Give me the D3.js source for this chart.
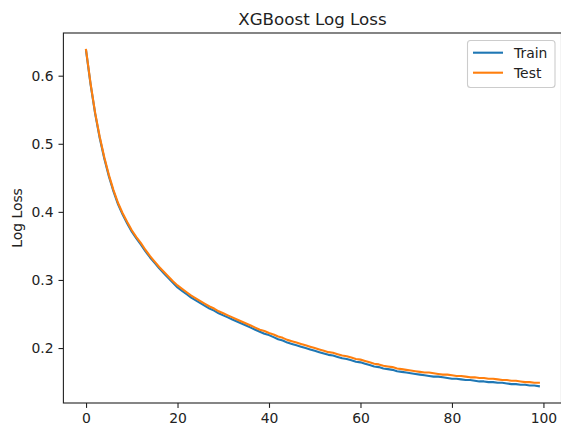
<!DOCTYPE html>
<html>
<head>
<meta charset="utf-8">
<script src="https://cdn.jsdelivr.net/npm/d3@7"></script>
<style>
  html, body { margin: 0; padding: 0; background: #fff; }
  svg { display: block; font-family: "DejaVu Sans", sans-serif; }
</style>
</head>
<body>
<svg id="chart" width="561" height="426"></svg>
<script>
const title = "XGBoost Log Loss";
const yLabel = "Log Loss";
const seriesNames = ["Train", "Test"];
const seriesColors = ["#1f77b4", "#ff7f0e"];
const xTicks = [0, 20, 40, 60, 80, 100];
const yTicks = [0.2, 0.3, 0.4, 0.5, 0.6];

const trainLoss = [
  0.637, 0.587, 0.544, 0.508, 0.478, 0.452, 0.430, 0.411, 0.396, 0.383,
  0.371, 0.361, 0.352, 0.342, 0.333, 0.325, 0.317, 0.310, 0.303, 0.296,
  0.289, 0.284, 0.279, 0.274, 0.270, 0.266, 0.262, 0.258, 0.255, 0.251,
  0.248, 0.245, 0.242, 0.239, 0.236, 0.233, 0.230, 0.227, 0.224, 0.221,
  0.219, 0.216, 0.213, 0.211, 0.208, 0.206, 0.204, 0.202, 0.200, 0.198,
  0.196, 0.194, 0.192, 0.190, 0.189, 0.187, 0.185, 0.184, 0.182, 0.180,
  0.179, 0.177, 0.175, 0.173, 0.172, 0.170, 0.169, 0.168, 0.166, 0.165,
  0.164, 0.163, 0.162, 0.161, 0.160, 0.159, 0.158, 0.158, 0.157, 0.156,
  0.155, 0.155, 0.154, 0.153, 0.153, 0.152, 0.151, 0.151, 0.150, 0.150,
  0.149, 0.149, 0.148, 0.147, 0.147, 0.146, 0.146, 0.145, 0.145, 0.144
];
const testLoss = [
  0.638, 0.588, 0.545, 0.510, 0.480, 0.454, 0.432, 0.413, 0.398, 0.385,
  0.373, 0.363, 0.354, 0.344, 0.335, 0.327, 0.319, 0.312, 0.305, 0.298,
  0.292, 0.287, 0.282, 0.277, 0.273, 0.269, 0.265, 0.261, 0.258, 0.254,
  0.251, 0.248, 0.245, 0.242, 0.239, 0.236, 0.233, 0.230, 0.227, 0.225,
  0.222, 0.220, 0.217, 0.215, 0.212, 0.210, 0.208, 0.206, 0.204, 0.202,
  0.200, 0.198, 0.196, 0.194, 0.193, 0.191, 0.189, 0.188, 0.186, 0.184,
  0.183, 0.181, 0.179, 0.177, 0.176, 0.174, 0.173, 0.172, 0.170, 0.169,
  0.168, 0.167, 0.166, 0.165, 0.164, 0.164, 0.163, 0.162, 0.161, 0.161,
  0.160, 0.159, 0.159, 0.158, 0.157, 0.157, 0.156, 0.156, 0.155, 0.155,
  0.154, 0.153, 0.153, 0.152, 0.152, 0.151, 0.150, 0.150, 0.149, 0.149
];
const seriesData = [trainLoss, testLoss];

const svg = d3.select("#chart");
const mLeft = 63.4, mRight = 561.5, mTop = 33, mBottom = 403;
const fontSize = 13.9;

const n = trainLoss.length;
const xSpan = n - 1;
const xScale = d3.scaleLinear()
  .domain([0 - 0.05 * xSpan, xSpan + 0.05 * xSpan])
  .range([mLeft, mRight]);

const allVals = trainLoss.concat(testLoss);
const yMin = d3.min(allVals), yMax = d3.max(allVals);
const ySpan = yMax - yMin;
const yScale = d3.scaleLinear()
  .domain([yMin - 0.05 * ySpan, yMax + 0.05 * ySpan])
  .range([mBottom, mTop]);

// lines
const line = d3.line()
  .x((d, i) => xScale(i))
  .y(d => yScale(d));

seriesData.forEach((vals, k) => {
  svg.append("path")
    .datum(vals)
    .attr("fill", "none")
    .attr("stroke", seriesColors[k])
    .attr("stroke-width", 2.1)
    .attr("stroke-linejoin", "round")
    .attr("stroke-linecap", "square")
    .attr("d", line);
});

// axes
const xAxis = d3.axisBottom(xScale).tickValues(xTicks).tickFormat(d3.format("d"))
  .tickSize(4.9).tickPadding(4.9).tickSizeOuter(0);
const yAxis = d3.axisLeft(yScale).tickValues(yTicks).tickFormat(d3.format(".1f"))
  .tickSize(4.9).tickPadding(4.9).tickSizeOuter(0);

const gx = svg.append("g").attr("transform", `translate(0,${mBottom})`).call(xAxis);
const gy = svg.append("g").attr("transform", `translate(${mLeft},0)`).call(yAxis);
[gx, gy].forEach(g => {
  g.select(".domain").remove();
  g.selectAll(".tick line").attr("stroke", "#222").attr("stroke-width", 1.1);
  g.selectAll(".tick text")
    .attr("fill", "#222")
    .style("font-size", fontSize + "px")
    .style("font-family", "'DejaVu Sans', sans-serif");
});

// spines
svg.append("rect")
  .attr("x", mLeft).attr("y", mTop)
  .attr("width", mRight - mLeft).attr("height", mBottom - mTop)
  .attr("fill", "none").attr("stroke", "#222").attr("stroke-width", 1.1);

// title
svg.append("text")
  .attr("x", (mLeft + mRight) / 2).attr("y", mTop - 8.3)
  .attr("text-anchor", "middle")
  .attr("fill", "#222")
  .style("font-size", "16.7px")
  .text(title);

// y label
svg.append("text")
  .attr("transform", `translate(22,${(mTop + mBottom) / 2}) rotate(-90)`)
  .attr("text-anchor", "middle")
  .attr("fill", "#222")
  .style("font-size", fontSize + "px")
  .text(yLabel);

// legend
const lg = svg.append("g");
lg.append("rect")
  .attr("x", 467.5).attr("y", 40.5)
  .attr("width", 87.5).attr("height", 47)
  .attr("rx", 3).attr("ry", 3)
  .attr("fill", "#fff").attr("fill-opacity", 0.8)
  .attr("stroke", "#ccc").attr("stroke-width", 1.1);
seriesNames.forEach((name, k) => {
  const yy = 52.7 + k * 20;
  lg.append("line")
    .attr("x1", 473).attr("x2", 503)
    .attr("y1", yy).attr("y2", yy)
    .attr("stroke", seriesColors[k]).attr("stroke-width", 2.1);
  lg.append("text")
    .attr("x", 514).attr("y", yy + 5)
    .attr("fill", "#222")
    .style("font-size", fontSize + "px")
    .text(name);
});
</script>
</body>
</html>
